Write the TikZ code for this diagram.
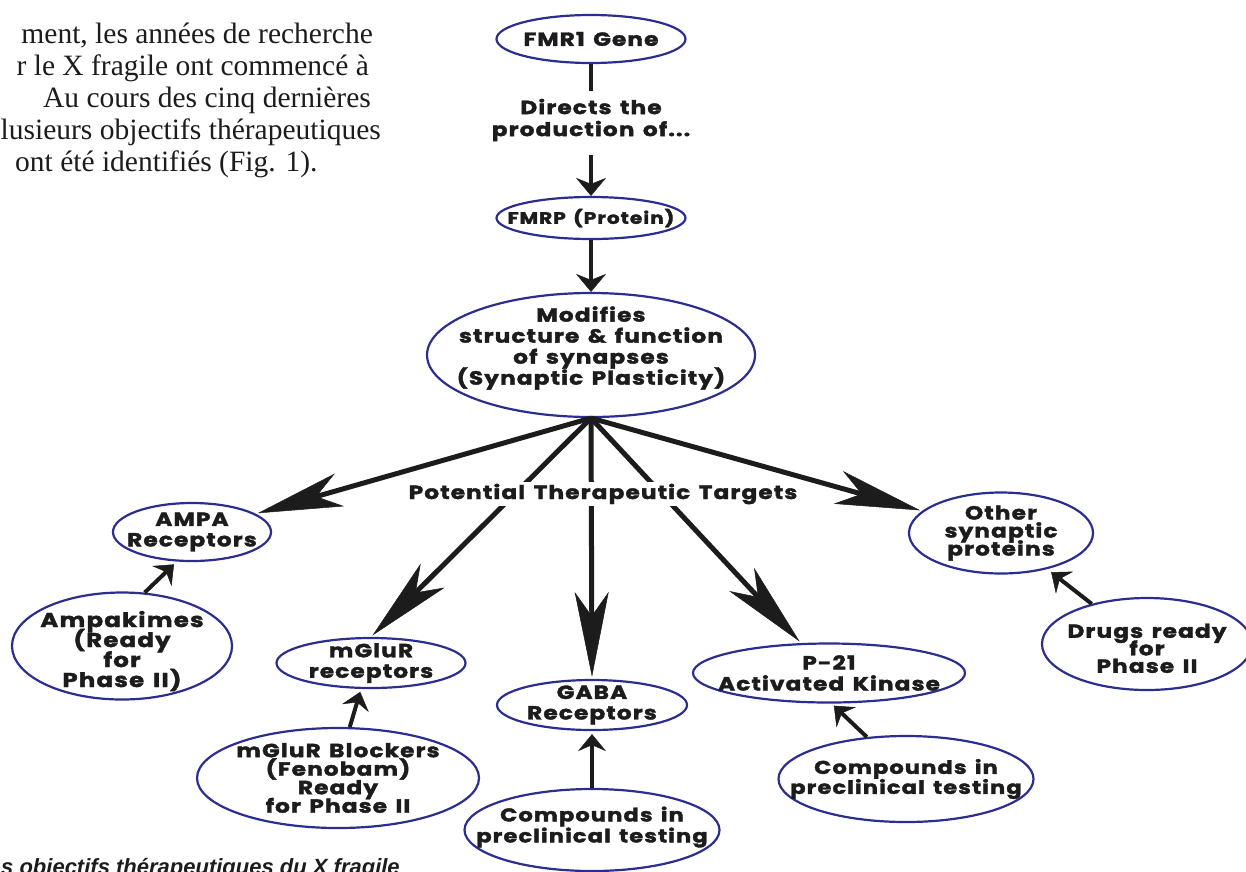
\documentclass[tikz,border=0pt]{standalone}
\usepackage{fontspec}
\setmainfont{Liberation Serif}
\newfontfamily\diagfont{Poppins}[FakeStretch=1.22, LetterSpace=6, WordSpace=1.4, BoldFeatures={FakeBold=2}]
\newfontfamily\capfont{Liberation Sans}
\usetikzlibrary{shapes.geometric,arrows.meta}
\definecolor{RingBlue}{HTML}{2B2D8F}
\definecolor{InkBlack}{HTML}{1C1C1C}
\newcommand{\ringfont}[2]{\diagfont\bfseries\fontsize{#1}{#2}\selectfont\lineskiplimit=-20pt}
\tikzset{>=Stealth}
\tikzset{
	bubble/.style={ellipse, draw=RingBlue, line width=2.2pt, inner sep=-30pt, align=center, text=InkBlack, font=\ringfont{19}{20.5}},
	tag/.style={fill=white, inner sep=3pt, align=center, text=InkBlack, font=\ringfont{19}{22}},
	bigarrow/.style={draw=InkBlack, line width=5pt, shorten >=2pt, -{Stealth[length=85pt,width=34pt,inset=24pt,line width=0.5pt]}},
	midarrow/.style={draw=InkBlack, line width=4.5pt, -{Stealth[length=18pt,width=30pt,inset=6pt,line width=0.5pt]}},
	smallarrow/.style={draw=InkBlack, line width=4pt, -{Stealth[length=17pt,width=28pt,inset=6pt,line width=0.5pt]}},
	para/.style={font=\fontsize{29.5}{32}\selectfont, text=InkBlack, inner sep=0pt, anchor=base east}
}

\begin{document}
\begin{tikzpicture}[x=1pt, y=-1pt]
	\useasboundingbox (0,0) rectangle (1246,871);
	
	% Paragraph (cut off on the left)
	\node[para] (para1) at (373,43) {ment, les années de recherche};
	\node[para] (para2) at (369,75) {r le X fragile ont commencé à};
	\node[para, anchor=base west] (para3) at (43,107) {Au cours des cinq dernières};
	\node[para] (para4) at (381,139) {lusieurs objectifs thérapeutiques};
	\node[para, anchor=base west] (para5) at (15,171) {ont été identifiés (Fig. 1).};
	
	% Caption (cut off at the bottom)
	\node[anchor=base west, inner sep=0pt, text=InkBlack, font=\capfont\bfseries\itshape\fontsize{22}{24}\selectfont] (caption) at (1,874) {s objectifs thérapeutiques du X fragile};
	
	% Ellipses
	\node[bubble, minimum width=189, minimum height=48] (fmr) at (591,39) {FMR1 Gene};
	\node[bubble, minimum width=189, minimum height=42, font=\ringfont{16.5}{18}] (fmrp) at (591,218) {FMRP (Protein)};
	\node[bubble, minimum width=328, minimum height=124, font=\ringfont{19}{21}] (mod) at (591,355) {Modifies\\structure \& function\\of synapses\\(Synaptic Plasticity)\\[-2pt]};
	\node[bubble, minimum width=158, minimum height=58] (ampa) at (192,532) {AMPA\\Receptors};
	\node[bubble, minimum width=220, minimum height=107, font=\ringfont{20}{20}] (ampak) at (122,646) {Ampakimes\\(Ready\\for\\Phase II)\\[-26pt]};
	\node[bubble, minimum width=189, minimum height=50] (mglur) at (371,663) {mGluR\\receptors};
	\node[bubble, minimum width=282, minimum height=100, font=\ringfont{19}{18.5}] (block) at (338,778) {mGluR Blockers\\(Fenobam)\\Ready\\for Phase II};
	\node[bubble, minimum width=190, minimum height=50] (gaba) at (592,705) {GABA\\Receptors};
	\node[bubble, minimum width=255, minimum height=82, font=\ringfont{18.5}{21}] (compa) at (592,830) {Compounds in\\preclinical testing\\[-10pt]};
	\node[bubble, minimum width=272, minimum height=59, font=\ringfont{19}{21}] (pak) at (829,673) {P-21\\Activated Kinase};
	\node[bubble, minimum width=255, minimum height=86, font=\ringfont{18.5}{20}] (compb) at (906,779) {Compounds in\\preclinical testing};
	\node[bubble, minimum width=184, minimum height=81, font=\ringfont{19}{18}] (other) at (1001,533) {Other\\synaptic\\proteins};
	\node[bubble, minimum width=210, minimum height=92, font=\ringfont{19}{17.5}] (drugs) at (1147,644) {Drugs ready\\for\\Phase II\\[-26pt]};
	
	% Gene to protein
	\node[tag, inner ysep=8pt] (directs) at (591,120) {Directs the\\production of...};
	\draw[draw=InkBlack, line width=4.5pt] (fmr) -- (directs);
	\draw[midarrow, shorten <=6pt] (directs) -- (fmrp);
	\draw[midarrow] (fmrp) -- (mod);
	
	% Targets
	\draw[bigarrow] (mod.south) -- (ampa);
	\draw[bigarrow] (mod.south) -- (mglur.north);
	\draw[bigarrow] (mod.south) -- (gaba.north);
	\draw[bigarrow] (mod.south) -- (pak);
	\draw[bigarrow] (mod.south) -- (other);
	\node[tag, inner sep=2pt, font=\ringfont{19}{21}] (targets) at (603,494) {Potential Therapeutic Targets};
	
	% Drugs
	\draw[smallarrow, shorten >=4pt] (ampak.67) -- (ampa.243);
	\draw[smallarrow, shorten >=3pt] (block.77) -- (mglur.249);
	\draw[smallarrow, shorten >=3pt] (compa.north) -- (gaba.south);
	\draw[smallarrow, shorten >=3pt] (compb.133) -- (pak.275);
	\draw[smallarrow, shorten >=5pt] (drugs.144) -- (other.322);
\end{tikzpicture}
\end{document}
